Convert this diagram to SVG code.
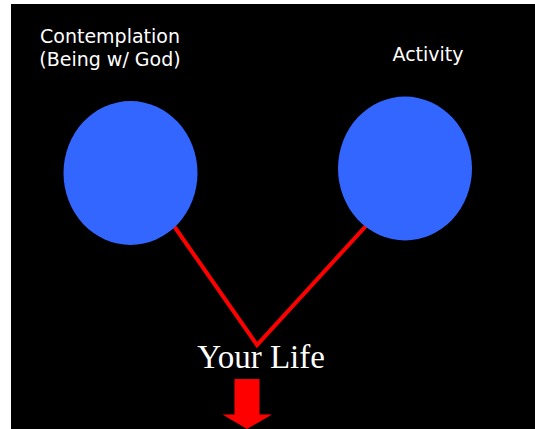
<svg xmlns="http://www.w3.org/2000/svg" width="535" height="429" viewBox="0 0 535 429">
<style>
.lbl{font-family:"DejaVu Sans","Liberation Sans",sans-serif;font-size:19px;fill:#fff;text-anchor:middle}
.node{fill:#3366ff}
.conn{stroke:#ff0000;stroke-width:4;fill:none;stroke-linejoin:miter}
</style>
<rect x="0" y="0" width="535" height="429" fill="#fff"/>
<rect x="11" y="4" width="524" height="425" fill="#000"/>
<g id="connectors">
<polyline class="conn" points="137,173 257,345 419,168"/>
</g>
<g id="contemplation">
<ellipse class="node" cx="130.5" cy="173" rx="67" ry="72"/>
<text class="lbl" x="110" y="43">Contemplation</text>
<text class="lbl" x="110" y="66">(Being w/ God)</text>
</g>
<g id="activity">
<ellipse class="node" cx="405" cy="168.5" rx="67" ry="72"/>
<text class="lbl" x="428" y="61">Activity</text>
</g>
<g id="your-life">
<text x="261" y="368" font-family="Liberation Serif,serif" font-size="33" fill="#fff" text-anchor="middle">Your Life</text>
<polygon fill="#ff0000" points="234.5,379 259.5,379 259.5,414.5 272,414.5 247,429 222.5,414.5 234.5,414.5"/>
</g>
</svg>
